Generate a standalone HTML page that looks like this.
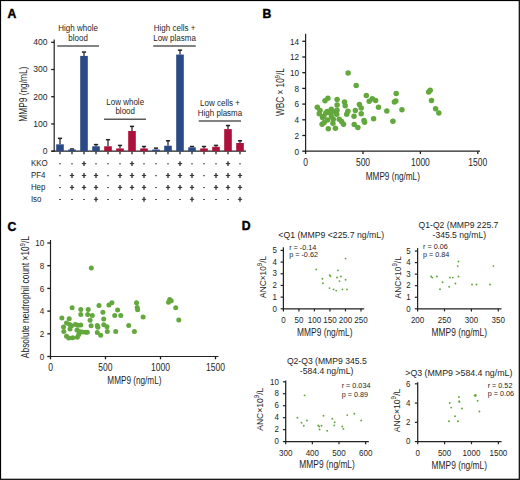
<!DOCTYPE html>
<html><head><meta charset="utf-8"><style>
html,body{margin:0;padding:0;background:#fff;}
body{width:520px;height:480px;overflow:hidden;position:relative;}
svg{position:absolute;left:0;top:0;}
svg text{font-family:"Liberation Sans", sans-serif;}
</style></head><body>
<svg width="520" height="480" viewBox="0 0 520 480">
<rect x="0" y="0" width="520" height="480" fill="#fff"/>
<text x="7.40" y="17.60" font-size="12.2" text-anchor="start" fill="#000" font-weight="bold" stroke="#000" stroke-width="0.45">A</text>
<text x="262.60" y="17.60" font-size="12.2" text-anchor="start" fill="#000" font-weight="bold" stroke="#000" stroke-width="0.45">B</text>
<text x="7.40" y="230.60" font-size="12.2" text-anchor="start" fill="#000" font-weight="bold" stroke="#000" stroke-width="0.45">C</text>
<text x="241.80" y="230.40" font-size="12.2" text-anchor="start" fill="#000" font-weight="bold" stroke="#000" stroke-width="0.45">D</text>
<line x1="54.20" y1="39.50" x2="54.20" y2="151.75" stroke="#222" stroke-width="1.2"/>
<line x1="51.20" y1="151.15" x2="54.20" y2="151.15" stroke="#1a1a1a" stroke-width="1.3"/>
<text x="0" y="0" transform="translate(47.60,153.95) scale(0.930,1)" font-size="9.2" text-anchor="end" fill="#1e1e1e" font-weight="normal" >0</text>
<line x1="51.20" y1="123.94" x2="54.20" y2="123.94" stroke="#1a1a1a" stroke-width="1.3"/>
<text x="0" y="0" transform="translate(47.60,126.74) scale(0.930,1)" font-size="9.2" text-anchor="end" fill="#1e1e1e" font-weight="normal" >100</text>
<line x1="51.20" y1="96.73" x2="54.20" y2="96.73" stroke="#1a1a1a" stroke-width="1.3"/>
<text x="0" y="0" transform="translate(47.60,99.53) scale(0.930,1)" font-size="9.2" text-anchor="end" fill="#1e1e1e" font-weight="normal" >200</text>
<line x1="51.20" y1="69.52" x2="54.20" y2="69.52" stroke="#1a1a1a" stroke-width="1.3"/>
<text x="0" y="0" transform="translate(47.60,72.32) scale(0.930,1)" font-size="9.2" text-anchor="end" fill="#1e1e1e" font-weight="normal" >300</text>
<line x1="51.20" y1="42.31" x2="54.20" y2="42.31" stroke="#1a1a1a" stroke-width="1.3"/>
<text x="0" y="0" transform="translate(47.60,45.11) scale(0.930,1)" font-size="9.2" text-anchor="end" fill="#1e1e1e" font-weight="normal" >400</text>
<line x1="51.50" y1="151.15" x2="246.00" y2="151.15" stroke="#222" stroke-width="1.2"/>
<line x1="60.00" y1="144.35" x2="60.00" y2="138.63" stroke="#2a2a2a" stroke-width="1.3"/>
<line x1="57.90" y1="138.33" x2="62.10" y2="138.33" stroke="#222" stroke-width="1.5"/>
<rect x="56.20" y="144.35" width="7.60" height="6.80" fill="#2b4b86"/>
<line x1="60.00" y1="151.75" x2="60.00" y2="154.35" stroke="#2a2a2a" stroke-width="1.35"/>
<line x1="72.00" y1="149.52" x2="72.00" y2="149.25" stroke="#2a2a2a" stroke-width="1.3"/>
<line x1="69.90" y1="148.95" x2="74.10" y2="148.95" stroke="#222" stroke-width="1.5"/>
<rect x="68.20" y="149.52" width="7.60" height="1.63" fill="#2b4b86"/>
<line x1="72.00" y1="151.75" x2="72.00" y2="154.35" stroke="#2a2a2a" stroke-width="1.35"/>
<line x1="84.00" y1="55.92" x2="84.00" y2="52.38" stroke="#2a2a2a" stroke-width="1.3"/>
<line x1="81.90" y1="52.08" x2="86.10" y2="52.08" stroke="#222" stroke-width="1.5"/>
<rect x="80.20" y="55.92" width="7.60" height="95.23" fill="#2b4b86"/>
<line x1="84.00" y1="151.75" x2="84.00" y2="154.35" stroke="#2a2a2a" stroke-width="1.35"/>
<line x1="96.00" y1="146.25" x2="96.00" y2="144.89" stroke="#2a2a2a" stroke-width="1.3"/>
<line x1="93.90" y1="144.59" x2="98.10" y2="144.59" stroke="#222" stroke-width="1.5"/>
<rect x="92.20" y="146.25" width="7.60" height="4.90" fill="#2b4b86"/>
<line x1="96.00" y1="151.75" x2="96.00" y2="154.35" stroke="#2a2a2a" stroke-width="1.35"/>
<line x1="108.00" y1="146.25" x2="108.00" y2="139.99" stroke="#2a2a2a" stroke-width="1.3"/>
<line x1="105.90" y1="139.69" x2="110.10" y2="139.69" stroke="#222" stroke-width="1.5"/>
<rect x="104.20" y="146.25" width="7.60" height="4.90" fill="#ad103b"/>
<line x1="108.00" y1="151.75" x2="108.00" y2="154.35" stroke="#2a2a2a" stroke-width="1.35"/>
<line x1="120.00" y1="148.43" x2="120.00" y2="145.71" stroke="#2a2a2a" stroke-width="1.3"/>
<line x1="117.90" y1="145.41" x2="122.10" y2="145.41" stroke="#222" stroke-width="1.5"/>
<rect x="116.20" y="148.43" width="7.60" height="2.72" fill="#ad103b"/>
<line x1="120.00" y1="151.75" x2="120.00" y2="154.35" stroke="#2a2a2a" stroke-width="1.35"/>
<line x1="132.00" y1="131.01" x2="132.00" y2="126.66" stroke="#2a2a2a" stroke-width="1.3"/>
<line x1="129.90" y1="126.36" x2="134.10" y2="126.36" stroke="#222" stroke-width="1.5"/>
<rect x="128.20" y="131.01" width="7.60" height="20.14" fill="#ad103b"/>
<line x1="132.00" y1="151.75" x2="132.00" y2="154.35" stroke="#2a2a2a" stroke-width="1.35"/>
<line x1="144.00" y1="148.43" x2="144.00" y2="146.80" stroke="#2a2a2a" stroke-width="1.3"/>
<line x1="141.90" y1="146.50" x2="146.10" y2="146.50" stroke="#222" stroke-width="1.5"/>
<rect x="140.20" y="148.43" width="7.60" height="2.72" fill="#ad103b"/>
<line x1="144.00" y1="151.75" x2="144.00" y2="154.35" stroke="#2a2a2a" stroke-width="1.35"/>
<line x1="156.00" y1="149.52" x2="156.00" y2="148.43" stroke="#2a2a2a" stroke-width="1.3"/>
<line x1="153.90" y1="148.13" x2="158.10" y2="148.13" stroke="#222" stroke-width="1.5"/>
<rect x="152.20" y="149.52" width="7.60" height="1.63" fill="#2b4b86"/>
<line x1="156.00" y1="151.75" x2="156.00" y2="154.35" stroke="#2a2a2a" stroke-width="1.35"/>
<line x1="168.00" y1="145.71" x2="168.00" y2="141.08" stroke="#2a2a2a" stroke-width="1.3"/>
<line x1="165.90" y1="140.78" x2="170.10" y2="140.78" stroke="#222" stroke-width="1.5"/>
<rect x="164.20" y="145.71" width="7.60" height="5.44" fill="#2b4b86"/>
<line x1="168.00" y1="151.75" x2="168.00" y2="154.35" stroke="#2a2a2a" stroke-width="1.35"/>
<line x1="180.00" y1="54.55" x2="180.00" y2="50.47" stroke="#2a2a2a" stroke-width="1.3"/>
<line x1="177.90" y1="50.17" x2="182.10" y2="50.17" stroke="#222" stroke-width="1.5"/>
<rect x="176.20" y="54.55" width="7.60" height="96.60" fill="#2b4b86"/>
<line x1="180.00" y1="151.75" x2="180.00" y2="154.35" stroke="#2a2a2a" stroke-width="1.35"/>
<line x1="192.00" y1="147.34" x2="192.00" y2="146.80" stroke="#2a2a2a" stroke-width="1.3"/>
<line x1="189.90" y1="146.50" x2="194.10" y2="146.50" stroke="#222" stroke-width="1.5"/>
<rect x="188.20" y="147.34" width="7.60" height="3.81" fill="#2b4b86"/>
<line x1="192.00" y1="151.75" x2="192.00" y2="154.35" stroke="#2a2a2a" stroke-width="1.35"/>
<line x1="204.00" y1="148.43" x2="204.00" y2="146.80" stroke="#2a2a2a" stroke-width="1.3"/>
<line x1="201.90" y1="146.50" x2="206.10" y2="146.50" stroke="#222" stroke-width="1.5"/>
<rect x="200.20" y="148.43" width="7.60" height="2.72" fill="#ad103b"/>
<line x1="204.00" y1="151.75" x2="204.00" y2="154.35" stroke="#2a2a2a" stroke-width="1.35"/>
<line x1="216.00" y1="146.80" x2="216.00" y2="145.71" stroke="#2a2a2a" stroke-width="1.3"/>
<line x1="213.90" y1="145.41" x2="218.10" y2="145.41" stroke="#222" stroke-width="1.5"/>
<rect x="212.20" y="146.80" width="7.60" height="4.35" fill="#ad103b"/>
<line x1="216.00" y1="151.75" x2="216.00" y2="154.35" stroke="#2a2a2a" stroke-width="1.35"/>
<line x1="228.00" y1="129.11" x2="228.00" y2="125.84" stroke="#2a2a2a" stroke-width="1.3"/>
<line x1="225.90" y1="125.54" x2="230.10" y2="125.54" stroke="#222" stroke-width="1.5"/>
<rect x="224.20" y="129.11" width="7.60" height="22.04" fill="#ad103b"/>
<line x1="228.00" y1="151.75" x2="228.00" y2="154.35" stroke="#2a2a2a" stroke-width="1.35"/>
<line x1="240.00" y1="142.99" x2="240.00" y2="141.08" stroke="#2a2a2a" stroke-width="1.3"/>
<line x1="237.90" y1="140.78" x2="242.10" y2="140.78" stroke="#222" stroke-width="1.5"/>
<rect x="236.20" y="142.99" width="7.60" height="8.16" fill="#ad103b"/>
<line x1="240.00" y1="151.75" x2="240.00" y2="154.35" stroke="#2a2a2a" stroke-width="1.35"/>
<line x1="57.20" y1="46.00" x2="99.00" y2="46.00" stroke="#5a5a5a" stroke-width="1.5"/>
<text x="0" y="0" transform="translate(78.10,31.20) scale(0.930,1)" font-size="8.6" text-anchor="middle" fill="#1e1e1e" font-weight="normal" >High whole</text>
<text x="0" y="0" transform="translate(78.10,40.80) scale(0.930,1)" font-size="8.6" text-anchor="middle" fill="#1e1e1e" font-weight="normal" >blood</text>
<line x1="104.00" y1="119.30" x2="146.00" y2="119.30" stroke="#5a5a5a" stroke-width="1.5"/>
<text x="0" y="0" transform="translate(125.20,104.60) scale(0.930,1)" font-size="8.6" text-anchor="middle" fill="#1e1e1e" font-weight="normal" >Low whole</text>
<text x="0" y="0" transform="translate(125.20,113.80) scale(0.930,1)" font-size="8.6" text-anchor="middle" fill="#1e1e1e" font-weight="normal" >blood</text>
<line x1="153.30" y1="45.90" x2="195.80" y2="45.90" stroke="#5a5a5a" stroke-width="1.5"/>
<text x="0" y="0" transform="translate(174.55,31.20) scale(0.930,1)" font-size="8.6" text-anchor="middle" fill="#1e1e1e" font-weight="normal" >High cells +</text>
<text x="0" y="0" transform="translate(174.55,40.60) scale(0.930,1)" font-size="8.6" text-anchor="middle" fill="#1e1e1e" font-weight="normal" >Low plasma</text>
<line x1="198.70" y1="120.90" x2="241.00" y2="120.90" stroke="#5a5a5a" stroke-width="1.5"/>
<text x="0" y="0" transform="translate(220.00,106.20) scale(0.930,1)" font-size="8.6" text-anchor="middle" fill="#1e1e1e" font-weight="normal" >Low cells +</text>
<text x="0" y="0" transform="translate(220.00,115.60) scale(0.930,1)" font-size="8.6" text-anchor="middle" fill="#1e1e1e" font-weight="normal" >High plasma</text>
<text x="0" y="0" transform="translate(30.90,165.90) scale(0.900,1)" font-size="8.8" text-anchor="start" fill="#1e1e1e" font-weight="normal" >KKO</text>
<line x1="59.00" y1="163.80" x2="61.00" y2="163.80" stroke="#555" stroke-width="1.0"/>
<line x1="71.00" y1="163.80" x2="73.00" y2="163.80" stroke="#555" stroke-width="1.0"/>
<line x1="81.80" y1="163.60" x2="86.20" y2="163.60" stroke="#3a3a3a" stroke-width="1.1"/>
<line x1="84.00" y1="161.20" x2="84.00" y2="166.00" stroke="#333" stroke-width="1.35"/>
<line x1="95.00" y1="163.80" x2="97.00" y2="163.80" stroke="#555" stroke-width="1.0"/>
<line x1="107.00" y1="163.80" x2="109.00" y2="163.80" stroke="#555" stroke-width="1.0"/>
<line x1="119.00" y1="163.80" x2="121.00" y2="163.80" stroke="#555" stroke-width="1.0"/>
<line x1="129.80" y1="163.60" x2="134.20" y2="163.60" stroke="#3a3a3a" stroke-width="1.1"/>
<line x1="132.00" y1="161.20" x2="132.00" y2="166.00" stroke="#333" stroke-width="1.35"/>
<line x1="143.00" y1="163.80" x2="145.00" y2="163.80" stroke="#555" stroke-width="1.0"/>
<line x1="155.00" y1="163.80" x2="157.00" y2="163.80" stroke="#555" stroke-width="1.0"/>
<line x1="167.00" y1="163.80" x2="169.00" y2="163.80" stroke="#555" stroke-width="1.0"/>
<line x1="177.80" y1="163.60" x2="182.20" y2="163.60" stroke="#3a3a3a" stroke-width="1.1"/>
<line x1="180.00" y1="161.20" x2="180.00" y2="166.00" stroke="#333" stroke-width="1.35"/>
<line x1="191.00" y1="163.80" x2="193.00" y2="163.80" stroke="#555" stroke-width="1.0"/>
<line x1="203.00" y1="163.80" x2="205.00" y2="163.80" stroke="#555" stroke-width="1.0"/>
<line x1="215.00" y1="163.80" x2="217.00" y2="163.80" stroke="#555" stroke-width="1.0"/>
<line x1="225.80" y1="163.60" x2="230.20" y2="163.60" stroke="#3a3a3a" stroke-width="1.1"/>
<line x1="228.00" y1="161.20" x2="228.00" y2="166.00" stroke="#333" stroke-width="1.35"/>
<line x1="239.00" y1="163.80" x2="241.00" y2="163.80" stroke="#555" stroke-width="1.0"/>
<text x="0" y="0" transform="translate(30.90,177.80) scale(0.900,1)" font-size="8.8" text-anchor="start" fill="#1e1e1e" font-weight="normal" >PF4</text>
<line x1="59.00" y1="175.70" x2="61.00" y2="175.70" stroke="#555" stroke-width="1.0"/>
<line x1="69.80" y1="175.50" x2="74.20" y2="175.50" stroke="#3a3a3a" stroke-width="1.1"/>
<line x1="72.00" y1="173.10" x2="72.00" y2="177.90" stroke="#333" stroke-width="1.35"/>
<line x1="81.80" y1="175.50" x2="86.20" y2="175.50" stroke="#3a3a3a" stroke-width="1.1"/>
<line x1="84.00" y1="173.10" x2="84.00" y2="177.90" stroke="#333" stroke-width="1.35"/>
<line x1="93.80" y1="175.50" x2="98.20" y2="175.50" stroke="#3a3a3a" stroke-width="1.1"/>
<line x1="96.00" y1="173.10" x2="96.00" y2="177.90" stroke="#333" stroke-width="1.35"/>
<line x1="107.00" y1="175.70" x2="109.00" y2="175.70" stroke="#555" stroke-width="1.0"/>
<line x1="117.80" y1="175.50" x2="122.20" y2="175.50" stroke="#3a3a3a" stroke-width="1.1"/>
<line x1="120.00" y1="173.10" x2="120.00" y2="177.90" stroke="#333" stroke-width="1.35"/>
<line x1="129.80" y1="175.50" x2="134.20" y2="175.50" stroke="#3a3a3a" stroke-width="1.1"/>
<line x1="132.00" y1="173.10" x2="132.00" y2="177.90" stroke="#333" stroke-width="1.35"/>
<line x1="141.80" y1="175.50" x2="146.20" y2="175.50" stroke="#3a3a3a" stroke-width="1.1"/>
<line x1="144.00" y1="173.10" x2="144.00" y2="177.90" stroke="#333" stroke-width="1.35"/>
<line x1="155.00" y1="175.70" x2="157.00" y2="175.70" stroke="#555" stroke-width="1.0"/>
<line x1="165.80" y1="175.50" x2="170.20" y2="175.50" stroke="#3a3a3a" stroke-width="1.1"/>
<line x1="168.00" y1="173.10" x2="168.00" y2="177.90" stroke="#333" stroke-width="1.35"/>
<line x1="177.80" y1="175.50" x2="182.20" y2="175.50" stroke="#3a3a3a" stroke-width="1.1"/>
<line x1="180.00" y1="173.10" x2="180.00" y2="177.90" stroke="#333" stroke-width="1.35"/>
<line x1="189.80" y1="175.50" x2="194.20" y2="175.50" stroke="#3a3a3a" stroke-width="1.1"/>
<line x1="192.00" y1="173.10" x2="192.00" y2="177.90" stroke="#333" stroke-width="1.35"/>
<line x1="203.00" y1="175.70" x2="205.00" y2="175.70" stroke="#555" stroke-width="1.0"/>
<line x1="213.80" y1="175.50" x2="218.20" y2="175.50" stroke="#3a3a3a" stroke-width="1.1"/>
<line x1="216.00" y1="173.10" x2="216.00" y2="177.90" stroke="#333" stroke-width="1.35"/>
<line x1="225.80" y1="175.50" x2="230.20" y2="175.50" stroke="#3a3a3a" stroke-width="1.1"/>
<line x1="228.00" y1="173.10" x2="228.00" y2="177.90" stroke="#333" stroke-width="1.35"/>
<line x1="237.80" y1="175.50" x2="242.20" y2="175.50" stroke="#3a3a3a" stroke-width="1.1"/>
<line x1="240.00" y1="173.10" x2="240.00" y2="177.90" stroke="#333" stroke-width="1.35"/>
<text x="0" y="0" transform="translate(30.90,189.70) scale(0.900,1)" font-size="8.8" text-anchor="start" fill="#1e1e1e" font-weight="normal" >Hep</text>
<line x1="59.00" y1="187.60" x2="61.00" y2="187.60" stroke="#555" stroke-width="1.0"/>
<line x1="69.80" y1="187.40" x2="74.20" y2="187.40" stroke="#3a3a3a" stroke-width="1.1"/>
<line x1="72.00" y1="185.00" x2="72.00" y2="189.80" stroke="#333" stroke-width="1.35"/>
<line x1="81.80" y1="187.40" x2="86.20" y2="187.40" stroke="#3a3a3a" stroke-width="1.1"/>
<line x1="84.00" y1="185.00" x2="84.00" y2="189.80" stroke="#333" stroke-width="1.35"/>
<line x1="93.80" y1="187.40" x2="98.20" y2="187.40" stroke="#3a3a3a" stroke-width="1.1"/>
<line x1="96.00" y1="185.00" x2="96.00" y2="189.80" stroke="#333" stroke-width="1.35"/>
<line x1="107.00" y1="187.60" x2="109.00" y2="187.60" stroke="#555" stroke-width="1.0"/>
<line x1="117.80" y1="187.40" x2="122.20" y2="187.40" stroke="#3a3a3a" stroke-width="1.1"/>
<line x1="120.00" y1="185.00" x2="120.00" y2="189.80" stroke="#333" stroke-width="1.35"/>
<line x1="129.80" y1="187.40" x2="134.20" y2="187.40" stroke="#3a3a3a" stroke-width="1.1"/>
<line x1="132.00" y1="185.00" x2="132.00" y2="189.80" stroke="#333" stroke-width="1.35"/>
<line x1="141.80" y1="187.40" x2="146.20" y2="187.40" stroke="#3a3a3a" stroke-width="1.1"/>
<line x1="144.00" y1="185.00" x2="144.00" y2="189.80" stroke="#333" stroke-width="1.35"/>
<line x1="155.00" y1="187.60" x2="157.00" y2="187.60" stroke="#555" stroke-width="1.0"/>
<line x1="165.80" y1="187.40" x2="170.20" y2="187.40" stroke="#3a3a3a" stroke-width="1.1"/>
<line x1="168.00" y1="185.00" x2="168.00" y2="189.80" stroke="#333" stroke-width="1.35"/>
<line x1="177.80" y1="187.40" x2="182.20" y2="187.40" stroke="#3a3a3a" stroke-width="1.1"/>
<line x1="180.00" y1="185.00" x2="180.00" y2="189.80" stroke="#333" stroke-width="1.35"/>
<line x1="189.80" y1="187.40" x2="194.20" y2="187.40" stroke="#3a3a3a" stroke-width="1.1"/>
<line x1="192.00" y1="185.00" x2="192.00" y2="189.80" stroke="#333" stroke-width="1.35"/>
<line x1="203.00" y1="187.60" x2="205.00" y2="187.60" stroke="#555" stroke-width="1.0"/>
<line x1="213.80" y1="187.40" x2="218.20" y2="187.40" stroke="#3a3a3a" stroke-width="1.1"/>
<line x1="216.00" y1="185.00" x2="216.00" y2="189.80" stroke="#333" stroke-width="1.35"/>
<line x1="225.80" y1="187.40" x2="230.20" y2="187.40" stroke="#3a3a3a" stroke-width="1.1"/>
<line x1="228.00" y1="185.00" x2="228.00" y2="189.80" stroke="#333" stroke-width="1.35"/>
<line x1="237.80" y1="187.40" x2="242.20" y2="187.40" stroke="#3a3a3a" stroke-width="1.1"/>
<line x1="240.00" y1="185.00" x2="240.00" y2="189.80" stroke="#333" stroke-width="1.35"/>
<text x="0" y="0" transform="translate(30.90,201.60) scale(0.900,1)" font-size="8.8" text-anchor="start" fill="#1e1e1e" font-weight="normal" >Iso</text>
<line x1="59.00" y1="199.50" x2="61.00" y2="199.50" stroke="#555" stroke-width="1.0"/>
<line x1="71.00" y1="199.50" x2="73.00" y2="199.50" stroke="#555" stroke-width="1.0"/>
<line x1="83.00" y1="199.50" x2="85.00" y2="199.50" stroke="#555" stroke-width="1.0"/>
<line x1="93.80" y1="199.30" x2="98.20" y2="199.30" stroke="#3a3a3a" stroke-width="1.1"/>
<line x1="96.00" y1="196.90" x2="96.00" y2="201.70" stroke="#333" stroke-width="1.35"/>
<line x1="107.00" y1="199.50" x2="109.00" y2="199.50" stroke="#555" stroke-width="1.0"/>
<line x1="119.00" y1="199.50" x2="121.00" y2="199.50" stroke="#555" stroke-width="1.0"/>
<line x1="131.00" y1="199.50" x2="133.00" y2="199.50" stroke="#555" stroke-width="1.0"/>
<line x1="141.80" y1="199.30" x2="146.20" y2="199.30" stroke="#3a3a3a" stroke-width="1.1"/>
<line x1="144.00" y1="196.90" x2="144.00" y2="201.70" stroke="#333" stroke-width="1.35"/>
<line x1="155.00" y1="199.50" x2="157.00" y2="199.50" stroke="#555" stroke-width="1.0"/>
<line x1="167.00" y1="199.50" x2="169.00" y2="199.50" stroke="#555" stroke-width="1.0"/>
<line x1="179.00" y1="199.50" x2="181.00" y2="199.50" stroke="#555" stroke-width="1.0"/>
<line x1="189.80" y1="199.30" x2="194.20" y2="199.30" stroke="#3a3a3a" stroke-width="1.1"/>
<line x1="192.00" y1="196.90" x2="192.00" y2="201.70" stroke="#333" stroke-width="1.35"/>
<line x1="203.00" y1="199.50" x2="205.00" y2="199.50" stroke="#555" stroke-width="1.0"/>
<line x1="215.00" y1="199.50" x2="217.00" y2="199.50" stroke="#555" stroke-width="1.0"/>
<line x1="227.00" y1="199.50" x2="229.00" y2="199.50" stroke="#555" stroke-width="1.0"/>
<line x1="237.80" y1="199.30" x2="242.20" y2="199.30" stroke="#3a3a3a" stroke-width="1.1"/>
<line x1="240.00" y1="196.90" x2="240.00" y2="201.70" stroke="#333" stroke-width="1.35"/>
<text x="0" y="0" font-size="10.0" fill="#1e1e1e" transform="translate(27.30,121.70) rotate(-90) scale(0.834,1)">MMP9 (ng/mL)</text>
<line x1="305.60" y1="33.80" x2="305.60" y2="151.80" stroke="#222" stroke-width="1.2"/>
<line x1="305.00" y1="151.20" x2="480.00" y2="151.20" stroke="#222" stroke-width="1.2"/>
<line x1="302.30" y1="151.20" x2="305.60" y2="151.20" stroke="#1a1a1a" stroke-width="1.3"/>
<text x="0" y="0" transform="translate(299.00,154.50) scale(0.870,1)" font-size="9.4" text-anchor="end" fill="#1e1e1e" font-weight="normal" >0</text>
<line x1="302.30" y1="135.50" x2="305.60" y2="135.50" stroke="#1a1a1a" stroke-width="1.3"/>
<text x="0" y="0" transform="translate(299.00,138.80) scale(0.870,1)" font-size="9.4" text-anchor="end" fill="#1e1e1e" font-weight="normal" >2</text>
<line x1="302.30" y1="119.80" x2="305.60" y2="119.80" stroke="#1a1a1a" stroke-width="1.3"/>
<text x="0" y="0" transform="translate(299.00,123.10) scale(0.870,1)" font-size="9.4" text-anchor="end" fill="#1e1e1e" font-weight="normal" >4</text>
<line x1="302.30" y1="104.10" x2="305.60" y2="104.10" stroke="#1a1a1a" stroke-width="1.3"/>
<text x="0" y="0" transform="translate(299.00,107.40) scale(0.870,1)" font-size="9.4" text-anchor="end" fill="#1e1e1e" font-weight="normal" >6</text>
<line x1="302.30" y1="88.40" x2="305.60" y2="88.40" stroke="#1a1a1a" stroke-width="1.3"/>
<text x="0" y="0" transform="translate(299.00,91.70) scale(0.870,1)" font-size="9.4" text-anchor="end" fill="#1e1e1e" font-weight="normal" >8</text>
<line x1="302.30" y1="72.70" x2="305.60" y2="72.70" stroke="#1a1a1a" stroke-width="1.3"/>
<text x="0" y="0" transform="translate(299.00,76.00) scale(0.870,1)" font-size="9.4" text-anchor="end" fill="#1e1e1e" font-weight="normal" >10</text>
<line x1="302.30" y1="57.00" x2="305.60" y2="57.00" stroke="#1a1a1a" stroke-width="1.3"/>
<text x="0" y="0" transform="translate(299.00,60.30) scale(0.870,1)" font-size="9.4" text-anchor="end" fill="#1e1e1e" font-weight="normal" >12</text>
<line x1="302.30" y1="41.30" x2="305.60" y2="41.30" stroke="#1a1a1a" stroke-width="1.3"/>
<text x="0" y="0" transform="translate(299.00,44.60) scale(0.870,1)" font-size="9.4" text-anchor="end" fill="#1e1e1e" font-weight="normal" >14</text>
<line x1="305.60" y1="151.20" x2="305.60" y2="154.00" stroke="#1a1a1a" stroke-width="1.3"/>
<text x="0" y="0" transform="translate(305.60,165.50) scale(0.850,1)" font-size="10.0" text-anchor="middle" fill="#1e1e1e" font-weight="normal" >0</text>
<line x1="363.00" y1="151.20" x2="363.00" y2="154.00" stroke="#1a1a1a" stroke-width="1.3"/>
<text x="0" y="0" transform="translate(363.00,165.50) scale(0.850,1)" font-size="10.0" text-anchor="middle" fill="#1e1e1e" font-weight="normal" >500</text>
<line x1="420.40" y1="151.20" x2="420.40" y2="154.00" stroke="#1a1a1a" stroke-width="1.3"/>
<text x="0" y="0" transform="translate(420.40,165.50) scale(0.850,1)" font-size="10.0" text-anchor="middle" fill="#1e1e1e" font-weight="normal" >1000</text>
<line x1="477.80" y1="151.20" x2="477.80" y2="154.00" stroke="#1a1a1a" stroke-width="1.3"/>
<text x="0" y="0" transform="translate(477.80,165.50) scale(0.850,1)" font-size="10.0" text-anchor="middle" fill="#1e1e1e" font-weight="normal" >1500</text>
<text x="0" y="0" transform="translate(392.80,179.60) scale(0.820,1)" font-size="10.0" text-anchor="middle" fill="#1e1e1e" font-weight="normal" >MMP9 (ng/mL)</text>
<text x="0" y="0" font-size="10.2" fill="#1e1e1e" transform="translate(283.60,116.00) rotate(-90) scale(0.809,1)">WBC × 10<tspan dy="-4.0" font-size="7.2">9</tspan><tspan dy="4.0">/L</tspan></text>
<circle cx="348.10" cy="72.90" r="2.75" fill="#62a83c"/>
<circle cx="356.20" cy="85.40" r="2.75" fill="#62a83c"/>
<circle cx="366.30" cy="95.50" r="2.75" fill="#62a83c"/>
<circle cx="369.20" cy="101.20" r="2.75" fill="#62a83c"/>
<circle cx="372.30" cy="98.70" r="2.75" fill="#62a83c"/>
<circle cx="375.60" cy="100.40" r="2.75" fill="#62a83c"/>
<circle cx="378.50" cy="107.30" r="2.75" fill="#62a83c"/>
<circle cx="386.80" cy="111.10" r="2.75" fill="#62a83c"/>
<circle cx="396.20" cy="93.50" r="2.75" fill="#62a83c"/>
<circle cx="395.80" cy="101.00" r="2.75" fill="#62a83c"/>
<circle cx="394.40" cy="102.10" r="2.75" fill="#62a83c"/>
<circle cx="401.90" cy="109.70" r="2.75" fill="#62a83c"/>
<circle cx="392.90" cy="121.20" r="2.75" fill="#62a83c"/>
<circle cx="373.60" cy="118.80" r="2.75" fill="#62a83c"/>
<circle cx="364.00" cy="120.60" r="2.75" fill="#62a83c"/>
<circle cx="364.60" cy="122.30" r="2.75" fill="#62a83c"/>
<circle cx="359.40" cy="104.40" r="2.75" fill="#62a83c"/>
<circle cx="361.20" cy="107.90" r="2.75" fill="#62a83c"/>
<circle cx="355.40" cy="110.40" r="2.75" fill="#62a83c"/>
<circle cx="361.20" cy="113.70" r="2.75" fill="#62a83c"/>
<circle cx="354.00" cy="116.30" r="2.75" fill="#62a83c"/>
<circle cx="354.20" cy="124.40" r="2.75" fill="#62a83c"/>
<circle cx="357.90" cy="127.50" r="2.75" fill="#62a83c"/>
<circle cx="347.90" cy="111.30" r="2.75" fill="#62a83c"/>
<circle cx="346.70" cy="114.20" r="2.75" fill="#62a83c"/>
<circle cx="344.50" cy="102.10" r="2.75" fill="#62a83c"/>
<circle cx="345.20" cy="105.70" r="2.75" fill="#62a83c"/>
<circle cx="343.50" cy="124.20" r="2.75" fill="#62a83c"/>
<circle cx="325.00" cy="100.80" r="2.75" fill="#62a83c"/>
<circle cx="327.90" cy="98.20" r="2.75" fill="#62a83c"/>
<circle cx="337.10" cy="99.60" r="2.75" fill="#62a83c"/>
<circle cx="337.10" cy="105.00" r="2.75" fill="#62a83c"/>
<circle cx="317.30" cy="107.30" r="2.75" fill="#62a83c"/>
<circle cx="320.00" cy="110.40" r="2.75" fill="#62a83c"/>
<circle cx="319.20" cy="113.75" r="2.75" fill="#62a83c"/>
<circle cx="325.80" cy="112.90" r="2.75" fill="#62a83c"/>
<circle cx="322.50" cy="117.50" r="2.75" fill="#62a83c"/>
<circle cx="331.25" cy="109.20" r="2.75" fill="#62a83c"/>
<circle cx="333.75" cy="111.70" r="2.75" fill="#62a83c"/>
<circle cx="336.70" cy="114.20" r="2.75" fill="#62a83c"/>
<circle cx="330.40" cy="113.30" r="2.75" fill="#62a83c"/>
<circle cx="327.50" cy="120.00" r="2.75" fill="#62a83c"/>
<circle cx="322.10" cy="124.20" r="2.75" fill="#62a83c"/>
<circle cx="333.30" cy="119.20" r="2.75" fill="#62a83c"/>
<circle cx="332.90" cy="123.30" r="2.75" fill="#62a83c"/>
<circle cx="339.20" cy="119.20" r="2.75" fill="#62a83c"/>
<circle cx="328.30" cy="128.75" r="2.75" fill="#62a83c"/>
<circle cx="335.40" cy="128.30" r="2.75" fill="#62a83c"/>
<circle cx="324.20" cy="122.50" r="2.75" fill="#62a83c"/>
<circle cx="337.00" cy="110.20" r="2.75" fill="#62a83c"/>
<circle cx="331.50" cy="116.80" r="2.75" fill="#62a83c"/>
<circle cx="341.60" cy="121.40" r="2.75" fill="#62a83c"/>
<circle cx="323.80" cy="116.20" r="2.75" fill="#62a83c"/>
<circle cx="327.20" cy="111.60" r="2.75" fill="#62a83c"/>
<circle cx="428.70" cy="92.10" r="2.75" fill="#62a83c"/>
<circle cx="430.20" cy="90.20" r="2.75" fill="#62a83c"/>
<circle cx="431.50" cy="100.50" r="2.75" fill="#62a83c"/>
<circle cx="435.60" cy="108.80" r="2.75" fill="#62a83c"/>
<circle cx="438.80" cy="112.90" r="2.75" fill="#62a83c"/>
<line x1="50.50" y1="240.00" x2="50.50" y2="357.10" stroke="#222" stroke-width="1.2"/>
<line x1="49.90" y1="356.50" x2="218.50" y2="356.50" stroke="#222" stroke-width="1.2"/>
<line x1="47.30" y1="356.50" x2="50.50" y2="356.50" stroke="#1a1a1a" stroke-width="1.3"/>
<text x="0" y="0" transform="translate(44.20,359.70) scale(0.900,1)" font-size="9.0" text-anchor="end" fill="#1e1e1e" font-weight="normal" >0</text>
<line x1="47.30" y1="333.80" x2="50.50" y2="333.80" stroke="#1a1a1a" stroke-width="1.3"/>
<text x="0" y="0" transform="translate(44.20,337.00) scale(0.900,1)" font-size="9.0" text-anchor="end" fill="#1e1e1e" font-weight="normal" >2</text>
<line x1="47.30" y1="311.10" x2="50.50" y2="311.10" stroke="#1a1a1a" stroke-width="1.3"/>
<text x="0" y="0" transform="translate(44.20,314.30) scale(0.900,1)" font-size="9.0" text-anchor="end" fill="#1e1e1e" font-weight="normal" >4</text>
<line x1="47.30" y1="288.40" x2="50.50" y2="288.40" stroke="#1a1a1a" stroke-width="1.3"/>
<text x="0" y="0" transform="translate(44.20,291.60) scale(0.900,1)" font-size="9.0" text-anchor="end" fill="#1e1e1e" font-weight="normal" >6</text>
<line x1="47.30" y1="265.70" x2="50.50" y2="265.70" stroke="#1a1a1a" stroke-width="1.3"/>
<text x="0" y="0" transform="translate(44.20,268.90) scale(0.900,1)" font-size="9.0" text-anchor="end" fill="#1e1e1e" font-weight="normal" >8</text>
<line x1="47.30" y1="243.00" x2="50.50" y2="243.00" stroke="#1a1a1a" stroke-width="1.3"/>
<text x="0" y="0" transform="translate(44.20,246.20) scale(0.900,1)" font-size="9.0" text-anchor="end" fill="#1e1e1e" font-weight="normal" >10</text>
<line x1="50.50" y1="356.50" x2="50.50" y2="359.30" stroke="#1a1a1a" stroke-width="1.3"/>
<text x="0" y="0" transform="translate(50.50,370.60) scale(0.830,1)" font-size="10.3" text-anchor="middle" fill="#1e1e1e" font-weight="normal" >0</text>
<line x1="105.50" y1="356.50" x2="105.50" y2="359.30" stroke="#1a1a1a" stroke-width="1.3"/>
<text x="0" y="0" transform="translate(105.50,370.60) scale(0.830,1)" font-size="10.3" text-anchor="middle" fill="#1e1e1e" font-weight="normal" >500</text>
<line x1="160.50" y1="356.50" x2="160.50" y2="359.30" stroke="#1a1a1a" stroke-width="1.3"/>
<text x="0" y="0" transform="translate(160.50,370.60) scale(0.830,1)" font-size="10.3" text-anchor="middle" fill="#1e1e1e" font-weight="normal" >1000</text>
<line x1="215.50" y1="356.50" x2="215.50" y2="359.30" stroke="#1a1a1a" stroke-width="1.3"/>
<text x="0" y="0" transform="translate(215.50,370.60) scale(0.830,1)" font-size="10.3" text-anchor="middle" fill="#1e1e1e" font-weight="normal" >1500</text>
<text x="0" y="0" transform="translate(134.40,383.80) scale(0.820,1)" font-size="10.0" text-anchor="middle" fill="#1e1e1e" font-weight="normal" >MMP9 (ng/mL)</text>
<text x="0" y="0" font-size="10.9" fill="#1e1e1e" transform="translate(28.60,358.20) rotate(-90) scale(0.775,1)">Absolute neutrophil count ×10<tspan dy="-4.0" font-size="7.2">9</tspan><tspan dy="4.0">/L</tspan></text>
<circle cx="91.30" cy="267.90" r="2.5" fill="#62a83c"/>
<circle cx="111.90" cy="302.70" r="2.5" fill="#62a83c"/>
<circle cx="136.50" cy="302.70" r="2.5" fill="#62a83c"/>
<circle cx="99.00" cy="305.40" r="2.5" fill="#62a83c"/>
<circle cx="72.10" cy="307.70" r="2.5" fill="#62a83c"/>
<circle cx="80.80" cy="309.60" r="2.5" fill="#62a83c"/>
<circle cx="80.80" cy="314.60" r="2.5" fill="#62a83c"/>
<circle cx="88.20" cy="309.60" r="2.5" fill="#62a83c"/>
<circle cx="87.70" cy="314.40" r="2.5" fill="#62a83c"/>
<circle cx="92.30" cy="315.40" r="2.5" fill="#62a83c"/>
<circle cx="90.10" cy="320.30" r="2.5" fill="#62a83c"/>
<circle cx="91.10" cy="325.80" r="2.5" fill="#62a83c"/>
<circle cx="97.30" cy="325.50" r="2.5" fill="#62a83c"/>
<circle cx="97.30" cy="332.50" r="2.5" fill="#62a83c"/>
<circle cx="100.70" cy="335.20" r="2.5" fill="#62a83c"/>
<circle cx="61.90" cy="317.90" r="2.5" fill="#62a83c"/>
<circle cx="69.20" cy="318.80" r="2.5" fill="#62a83c"/>
<circle cx="108.90" cy="305.10" r="2.5" fill="#62a83c"/>
<circle cx="102.90" cy="312.30" r="2.5" fill="#62a83c"/>
<circle cx="117.60" cy="309.90" r="2.5" fill="#62a83c"/>
<circle cx="114.70" cy="315.50" r="2.5" fill="#62a83c"/>
<circle cx="120.80" cy="315.50" r="2.5" fill="#62a83c"/>
<circle cx="103.70" cy="319.00" r="2.5" fill="#62a83c"/>
<circle cx="103.80" cy="324.80" r="2.5" fill="#62a83c"/>
<circle cx="107.00" cy="326.70" r="2.5" fill="#62a83c"/>
<circle cx="107.30" cy="331.50" r="2.5" fill="#62a83c"/>
<circle cx="115.70" cy="331.50" r="2.5" fill="#62a83c"/>
<circle cx="128.70" cy="325.60" r="2.5" fill="#62a83c"/>
<circle cx="134.40" cy="331.50" r="2.5" fill="#62a83c"/>
<circle cx="137.20" cy="307.40" r="2.5" fill="#62a83c"/>
<circle cx="137.60" cy="309.80" r="2.5" fill="#62a83c"/>
<circle cx="97.90" cy="327.30" r="2.5" fill="#62a83c"/>
<circle cx="143.10" cy="316.90" r="2.5" fill="#62a83c"/>
<circle cx="169.70" cy="299.60" r="2.5" fill="#62a83c"/>
<circle cx="171.20" cy="300.80" r="2.5" fill="#62a83c"/>
<circle cx="168.50" cy="302.20" r="2.5" fill="#62a83c"/>
<circle cx="175.70" cy="307.80" r="2.5" fill="#62a83c"/>
<circle cx="178.80" cy="320.10" r="2.5" fill="#62a83c"/>
<circle cx="66.50" cy="323.10" r="2.5" fill="#62a83c"/>
<circle cx="63.50" cy="326.90" r="2.5" fill="#62a83c"/>
<circle cx="63.80" cy="331.50" r="2.5" fill="#62a83c"/>
<circle cx="69.60" cy="324.60" r="2.5" fill="#62a83c"/>
<circle cx="71.50" cy="325.80" r="2.5" fill="#62a83c"/>
<circle cx="70.00" cy="329.00" r="2.5" fill="#62a83c"/>
<circle cx="75.40" cy="324.60" r="2.5" fill="#62a83c"/>
<circle cx="80.80" cy="325.00" r="2.5" fill="#62a83c"/>
<circle cx="78.00" cy="325.20" r="2.5" fill="#62a83c"/>
<circle cx="77.00" cy="330.00" r="2.5" fill="#62a83c"/>
<circle cx="79.00" cy="331.20" r="2.5" fill="#62a83c"/>
<circle cx="82.30" cy="331.90" r="2.5" fill="#62a83c"/>
<circle cx="85.50" cy="332.30" r="2.5" fill="#62a83c"/>
<circle cx="87.30" cy="332.30" r="2.5" fill="#62a83c"/>
<circle cx="66.50" cy="336.20" r="2.5" fill="#62a83c"/>
<circle cx="68.80" cy="338.10" r="2.5" fill="#62a83c"/>
<circle cx="72.70" cy="337.70" r="2.5" fill="#62a83c"/>
<circle cx="77.30" cy="337.30" r="2.5" fill="#62a83c"/>
<circle cx="78.80" cy="334.60" r="2.5" fill="#62a83c"/>
<line x1="283.40" y1="247.30" x2="283.40" y2="309.40" stroke="#222" stroke-width="1.25"/>
<line x1="282.80" y1="308.80" x2="364.20" y2="308.80" stroke="#222" stroke-width="1.25"/>
<line x1="280.60" y1="308.80" x2="283.40" y2="308.80" stroke="#222" stroke-width="1.2"/>
<text x="0" y="0" transform="translate(277.00,311.50) scale(0.920,1)" font-size="8.6" text-anchor="end" fill="#1e1e1e" font-weight="normal" >0</text>
<line x1="280.60" y1="297.12" x2="283.40" y2="297.12" stroke="#222" stroke-width="1.2"/>
<text x="0" y="0" transform="translate(277.00,299.82) scale(0.920,1)" font-size="8.6" text-anchor="end" fill="#1e1e1e" font-weight="normal" >1</text>
<line x1="280.60" y1="285.44" x2="283.40" y2="285.44" stroke="#222" stroke-width="1.2"/>
<text x="0" y="0" transform="translate(277.00,288.14) scale(0.920,1)" font-size="8.6" text-anchor="end" fill="#1e1e1e" font-weight="normal" >2</text>
<line x1="280.60" y1="273.76" x2="283.40" y2="273.76" stroke="#222" stroke-width="1.2"/>
<text x="0" y="0" transform="translate(277.00,276.46) scale(0.920,1)" font-size="8.6" text-anchor="end" fill="#1e1e1e" font-weight="normal" >3</text>
<line x1="280.60" y1="262.08" x2="283.40" y2="262.08" stroke="#222" stroke-width="1.2"/>
<text x="0" y="0" transform="translate(277.00,264.78) scale(0.920,1)" font-size="8.6" text-anchor="end" fill="#1e1e1e" font-weight="normal" >4</text>
<line x1="280.60" y1="250.40" x2="283.40" y2="250.40" stroke="#222" stroke-width="1.2"/>
<text x="0" y="0" transform="translate(277.00,253.10) scale(0.920,1)" font-size="8.6" text-anchor="end" fill="#1e1e1e" font-weight="normal" >5</text>
<line x1="283.40" y1="308.80" x2="283.40" y2="311.40" stroke="#222" stroke-width="1.2"/>
<text x="0" y="0" transform="translate(283.40,322.80) scale(0.845,1)" font-size="9.5" text-anchor="middle" fill="#1e1e1e" font-weight="normal" >0</text>
<line x1="298.92" y1="308.80" x2="298.92" y2="311.40" stroke="#222" stroke-width="1.2"/>
<text x="0" y="0" transform="translate(298.92,322.80) scale(0.845,1)" font-size="9.5" text-anchor="middle" fill="#1e1e1e" font-weight="normal" >50</text>
<line x1="314.44" y1="308.80" x2="314.44" y2="311.40" stroke="#222" stroke-width="1.2"/>
<text x="0" y="0" transform="translate(314.44,322.80) scale(0.845,1)" font-size="9.5" text-anchor="middle" fill="#1e1e1e" font-weight="normal" >100</text>
<line x1="329.96" y1="308.80" x2="329.96" y2="311.40" stroke="#222" stroke-width="1.2"/>
<text x="0" y="0" transform="translate(329.96,322.80) scale(0.845,1)" font-size="9.5" text-anchor="middle" fill="#1e1e1e" font-weight="normal" >150</text>
<line x1="345.48" y1="308.80" x2="345.48" y2="311.40" stroke="#222" stroke-width="1.2"/>
<text x="0" y="0" transform="translate(345.48,322.80) scale(0.845,1)" font-size="9.5" text-anchor="middle" fill="#1e1e1e" font-weight="normal" >200</text>
<line x1="361.00" y1="308.80" x2="361.00" y2="311.40" stroke="#222" stroke-width="1.2"/>
<text x="0" y="0" transform="translate(361.00,322.80) scale(0.845,1)" font-size="9.5" text-anchor="middle" fill="#1e1e1e" font-weight="normal" >250</text>
<text x="331.20" y="238.40" font-size="8.7" text-anchor="middle" fill="#1e1e1e" font-weight="normal" >&lt;Q1 (MMP9 &lt;225.7 ng/mL)</text>
<text x="0" y="0" transform="translate(289.20,249.60) scale(1.020,1)" font-size="7.1" text-anchor="start" fill="#1e1e1e" font-weight="normal" >r = -0.14</text>
<text x="0" y="0" transform="translate(289.20,256.80) scale(1.020,1)" font-size="7.1" text-anchor="start" fill="#1e1e1e" font-weight="normal" >p = -0.62</text>
<text x="0" y="0" transform="translate(324.80,336.00) scale(0.840,1)" font-size="10.0" text-anchor="middle" fill="#1e1e1e" font-weight="normal" >MMP9 (ng/mL)</text>
<text x="0" y="0" font-size="9.8" fill="#1e1e1e" transform="translate(266.30,297.90) rotate(-90) scale(0.850,1)">ANC×10<tspan dy="-4.0" font-size="7.2">9</tspan><tspan dy="4.0">/L</tspan></text>
<circle cx="345.60" cy="258.60" r="0.95" fill="#62a83c"/>
<circle cx="316.30" cy="269.40" r="0.95" fill="#62a83c"/>
<circle cx="337.90" cy="270.40" r="0.95" fill="#62a83c"/>
<circle cx="329.70" cy="275.10" r="0.95" fill="#62a83c"/>
<circle cx="330.40" cy="276.20" r="0.95" fill="#62a83c"/>
<circle cx="337.00" cy="277.50" r="0.95" fill="#62a83c"/>
<circle cx="340.90" cy="276.40" r="0.95" fill="#62a83c"/>
<circle cx="322.40" cy="278.80" r="0.95" fill="#62a83c"/>
<circle cx="339.50" cy="281.10" r="0.95" fill="#62a83c"/>
<circle cx="345.60" cy="279.80" r="0.95" fill="#62a83c"/>
<circle cx="322.90" cy="283.30" r="0.95" fill="#62a83c"/>
<circle cx="329.50" cy="288.10" r="0.95" fill="#62a83c"/>
<circle cx="333.60" cy="289.40" r="0.95" fill="#62a83c"/>
<circle cx="336.20" cy="290.60" r="0.95" fill="#62a83c"/>
<circle cx="342.40" cy="289.40" r="0.95" fill="#62a83c"/>
<circle cx="347.00" cy="289.40" r="0.95" fill="#62a83c"/>
<line x1="417.60" y1="248.10" x2="417.60" y2="309.40" stroke="#222" stroke-width="1.25"/>
<line x1="417.00" y1="308.80" x2="501.50" y2="308.80" stroke="#222" stroke-width="1.25"/>
<line x1="414.80" y1="308.80" x2="417.60" y2="308.80" stroke="#222" stroke-width="1.2"/>
<text x="0" y="0" transform="translate(410.70,311.50) scale(0.920,1)" font-size="8.6" text-anchor="end" fill="#1e1e1e" font-weight="normal" >0</text>
<line x1="414.80" y1="297.25" x2="417.60" y2="297.25" stroke="#222" stroke-width="1.2"/>
<text x="0" y="0" transform="translate(410.70,299.95) scale(0.920,1)" font-size="8.6" text-anchor="end" fill="#1e1e1e" font-weight="normal" >1</text>
<line x1="414.80" y1="285.70" x2="417.60" y2="285.70" stroke="#222" stroke-width="1.2"/>
<text x="0" y="0" transform="translate(410.70,288.40) scale(0.920,1)" font-size="8.6" text-anchor="end" fill="#1e1e1e" font-weight="normal" >2</text>
<line x1="414.80" y1="274.15" x2="417.60" y2="274.15" stroke="#222" stroke-width="1.2"/>
<text x="0" y="0" transform="translate(410.70,276.85) scale(0.920,1)" font-size="8.6" text-anchor="end" fill="#1e1e1e" font-weight="normal" >3</text>
<line x1="414.80" y1="262.60" x2="417.60" y2="262.60" stroke="#222" stroke-width="1.2"/>
<text x="0" y="0" transform="translate(410.70,265.30) scale(0.920,1)" font-size="8.6" text-anchor="end" fill="#1e1e1e" font-weight="normal" >4</text>
<line x1="414.80" y1="251.05" x2="417.60" y2="251.05" stroke="#222" stroke-width="1.2"/>
<text x="0" y="0" transform="translate(410.70,253.75) scale(0.920,1)" font-size="8.6" text-anchor="end" fill="#1e1e1e" font-weight="normal" >5</text>
<line x1="417.60" y1="308.80" x2="417.60" y2="311.40" stroke="#222" stroke-width="1.2"/>
<text x="0" y="0" transform="translate(417.60,322.80) scale(0.845,1)" font-size="9.5" text-anchor="middle" fill="#1e1e1e" font-weight="normal" >200</text>
<line x1="444.50" y1="308.80" x2="444.50" y2="311.40" stroke="#222" stroke-width="1.2"/>
<text x="0" y="0" transform="translate(444.50,322.80) scale(0.845,1)" font-size="9.5" text-anchor="middle" fill="#1e1e1e" font-weight="normal" >250</text>
<line x1="471.40" y1="308.80" x2="471.40" y2="311.40" stroke="#222" stroke-width="1.2"/>
<text x="0" y="0" transform="translate(471.40,322.80) scale(0.845,1)" font-size="9.5" text-anchor="middle" fill="#1e1e1e" font-weight="normal" >300</text>
<line x1="498.30" y1="308.80" x2="498.30" y2="311.40" stroke="#222" stroke-width="1.2"/>
<text x="0" y="0" transform="translate(498.30,322.80) scale(0.845,1)" font-size="9.5" text-anchor="middle" fill="#1e1e1e" font-weight="normal" >350</text>
<text x="458.50" y="228.40" font-size="8.6" text-anchor="middle" fill="#1e1e1e" font-weight="normal" >Q1-Q2 (MMP9 225.7</text>
<text x="459.30" y="237.50" font-size="8.6" text-anchor="middle" fill="#1e1e1e" font-weight="normal" >-345.5 ng/mL)</text>
<text x="0" y="0" transform="translate(423.00,249.30) scale(1.020,1)" font-size="7.1" text-anchor="start" fill="#1e1e1e" font-weight="normal" >r = 0.06</text>
<text x="0" y="0" transform="translate(423.00,257.10) scale(1.020,1)" font-size="7.1" text-anchor="start" fill="#1e1e1e" font-weight="normal" >p = 0.84</text>
<text x="0" y="0" transform="translate(459.30,336.40) scale(0.840,1)" font-size="10.0" text-anchor="middle" fill="#1e1e1e" font-weight="normal" >MMP9 (ng/mL)</text>
<text x="0" y="0" font-size="9.8" fill="#1e1e1e" transform="translate(400.60,298.45) rotate(-90) scale(0.855,1)">ANC×10<tspan dy="-4.0" font-size="7.2">9</tspan><tspan dy="4.0">/L</tspan></text>
<circle cx="458.50" cy="261.50" r="0.95" fill="#62a83c"/>
<circle cx="457.70" cy="266.10" r="0.95" fill="#62a83c"/>
<circle cx="493.40" cy="266.10" r="0.95" fill="#62a83c"/>
<circle cx="431.10" cy="276.50" r="0.95" fill="#62a83c"/>
<circle cx="432.30" cy="277.60" r="0.95" fill="#62a83c"/>
<circle cx="436.90" cy="276.50" r="0.95" fill="#62a83c"/>
<circle cx="450.00" cy="277.60" r="0.95" fill="#62a83c"/>
<circle cx="452.80" cy="277.60" r="0.95" fill="#62a83c"/>
<circle cx="458.50" cy="276.50" r="0.95" fill="#62a83c"/>
<circle cx="442.60" cy="282.20" r="0.95" fill="#62a83c"/>
<circle cx="455.40" cy="283.50" r="0.95" fill="#62a83c"/>
<circle cx="449.20" cy="286.80" r="0.95" fill="#62a83c"/>
<circle cx="440.00" cy="289.20" r="0.95" fill="#62a83c"/>
<circle cx="472.00" cy="284.50" r="0.95" fill="#62a83c"/>
<circle cx="476.50" cy="284.50" r="0.95" fill="#62a83c"/>
<circle cx="490.00" cy="284.50" r="0.95" fill="#62a83c"/>
<line x1="285.70" y1="380.50" x2="285.70" y2="442.20" stroke="#222" stroke-width="1.25"/>
<line x1="285.10" y1="441.60" x2="368.85" y2="441.60" stroke="#222" stroke-width="1.25"/>
<line x1="282.90" y1="441.60" x2="285.70" y2="441.60" stroke="#222" stroke-width="1.2"/>
<text x="0" y="0" transform="translate(278.80,444.30) scale(0.920,1)" font-size="8.6" text-anchor="end" fill="#1e1e1e" font-weight="normal" >0</text>
<line x1="282.90" y1="429.64" x2="285.70" y2="429.64" stroke="#222" stroke-width="1.2"/>
<text x="0" y="0" transform="translate(278.80,432.34) scale(0.920,1)" font-size="8.6" text-anchor="end" fill="#1e1e1e" font-weight="normal" >2</text>
<line x1="282.90" y1="417.68" x2="285.70" y2="417.68" stroke="#222" stroke-width="1.2"/>
<text x="0" y="0" transform="translate(278.80,420.38) scale(0.920,1)" font-size="8.6" text-anchor="end" fill="#1e1e1e" font-weight="normal" >4</text>
<line x1="282.90" y1="405.72" x2="285.70" y2="405.72" stroke="#222" stroke-width="1.2"/>
<text x="0" y="0" transform="translate(278.80,408.42) scale(0.920,1)" font-size="8.6" text-anchor="end" fill="#1e1e1e" font-weight="normal" >6</text>
<line x1="282.90" y1="393.76" x2="285.70" y2="393.76" stroke="#222" stroke-width="1.2"/>
<text x="0" y="0" transform="translate(278.80,396.46) scale(0.920,1)" font-size="8.6" text-anchor="end" fill="#1e1e1e" font-weight="normal" >8</text>
<line x1="282.90" y1="381.80" x2="285.70" y2="381.80" stroke="#222" stroke-width="1.2"/>
<text x="0" y="0" transform="translate(278.80,384.50) scale(0.920,1)" font-size="8.6" text-anchor="end" fill="#1e1e1e" font-weight="normal" >10</text>
<line x1="285.70" y1="441.60" x2="285.70" y2="444.20" stroke="#222" stroke-width="1.2"/>
<text x="0" y="0" transform="translate(285.70,455.60) scale(0.845,1)" font-size="9.5" text-anchor="middle" fill="#1e1e1e" font-weight="normal" >300</text>
<line x1="312.35" y1="441.60" x2="312.35" y2="444.20" stroke="#222" stroke-width="1.2"/>
<text x="0" y="0" transform="translate(312.35,455.60) scale(0.845,1)" font-size="9.5" text-anchor="middle" fill="#1e1e1e" font-weight="normal" >400</text>
<line x1="339.00" y1="441.60" x2="339.00" y2="444.20" stroke="#222" stroke-width="1.2"/>
<text x="0" y="0" transform="translate(339.00,455.60) scale(0.845,1)" font-size="9.5" text-anchor="middle" fill="#1e1e1e" font-weight="normal" >500</text>
<line x1="365.65" y1="441.60" x2="365.65" y2="444.20" stroke="#222" stroke-width="1.2"/>
<text x="0" y="0" transform="translate(365.65,455.60) scale(0.845,1)" font-size="9.5" text-anchor="middle" fill="#1e1e1e" font-weight="normal" >600</text>
<text x="326.80" y="363.90" font-size="8.6" text-anchor="middle" fill="#1e1e1e" font-weight="normal" >Q2-Q3 (MMP9 345.5</text>
<text x="326.60" y="373.50" font-size="8.6" text-anchor="middle" fill="#1e1e1e" font-weight="normal" >-584.4 ng/mL)</text>
<text x="0" y="0" transform="translate(341.70,388.40) scale(1.020,1)" font-size="7.1" text-anchor="start" fill="#1e1e1e" font-weight="normal" >r = 0.034</text>
<text x="0" y="0" transform="translate(341.70,396.70) scale(1.020,1)" font-size="7.1" text-anchor="start" fill="#1e1e1e" font-weight="normal" >p = 0.89</text>
<text x="0" y="0" transform="translate(327.10,467.50) scale(0.840,1)" font-size="10.0" text-anchor="middle" fill="#1e1e1e" font-weight="normal" >MMP9 (ng/mL)</text>
<text x="0" y="0" font-size="9.8" fill="#1e1e1e" transform="translate(263.00,430.80) rotate(-90) scale(0.873,1)">ANC×10<tspan dy="-4.0" font-size="7.2">9</tspan><tspan dy="4.0">/L</tspan></text>
<circle cx="304.60" cy="395.40" r="0.95" fill="#62a83c"/>
<circle cx="297.40" cy="417.70" r="0.95" fill="#62a83c"/>
<circle cx="301.50" cy="422.80" r="0.95" fill="#62a83c"/>
<circle cx="303.80" cy="425.80" r="0.95" fill="#62a83c"/>
<circle cx="306.90" cy="420.50" r="0.95" fill="#62a83c"/>
<circle cx="318.20" cy="425.40" r="0.95" fill="#62a83c"/>
<circle cx="319.20" cy="426.50" r="0.95" fill="#62a83c"/>
<circle cx="321.50" cy="425.80" r="0.95" fill="#62a83c"/>
<circle cx="319.50" cy="429.50" r="0.95" fill="#62a83c"/>
<circle cx="323.50" cy="415.70" r="0.95" fill="#62a83c"/>
<circle cx="327.20" cy="430.80" r="0.95" fill="#62a83c"/>
<circle cx="332.30" cy="418.80" r="0.95" fill="#62a83c"/>
<circle cx="334.60" cy="422.30" r="0.95" fill="#62a83c"/>
<circle cx="334.30" cy="425.40" r="0.95" fill="#62a83c"/>
<circle cx="342.30" cy="426.50" r="0.95" fill="#62a83c"/>
<circle cx="343.40" cy="428.90" r="0.95" fill="#62a83c"/>
<circle cx="347.20" cy="415.10" r="0.95" fill="#62a83c"/>
<circle cx="354.30" cy="413.80" r="0.95" fill="#62a83c"/>
<circle cx="361.20" cy="420.50" r="0.95" fill="#62a83c"/>
<line x1="417.70" y1="382.20" x2="417.70" y2="442.20" stroke="#222" stroke-width="1.25"/>
<line x1="417.10" y1="441.60" x2="501.60" y2="441.60" stroke="#222" stroke-width="1.25"/>
<line x1="414.90" y1="441.60" x2="417.70" y2="441.60" stroke="#222" stroke-width="1.2"/>
<text x="0" y="0" transform="translate(410.30,444.30) scale(0.920,1)" font-size="8.6" text-anchor="end" fill="#1e1e1e" font-weight="normal" >0</text>
<line x1="414.90" y1="422.34" x2="417.70" y2="422.34" stroke="#222" stroke-width="1.2"/>
<text x="0" y="0" transform="translate(410.30,425.04) scale(0.920,1)" font-size="8.6" text-anchor="end" fill="#1e1e1e" font-weight="normal" >2</text>
<line x1="414.90" y1="403.08" x2="417.70" y2="403.08" stroke="#222" stroke-width="1.2"/>
<text x="0" y="0" transform="translate(410.30,405.78) scale(0.920,1)" font-size="8.6" text-anchor="end" fill="#1e1e1e" font-weight="normal" >4</text>
<line x1="414.90" y1="383.82" x2="417.70" y2="383.82" stroke="#222" stroke-width="1.2"/>
<text x="0" y="0" transform="translate(410.30,386.52) scale(0.920,1)" font-size="8.6" text-anchor="end" fill="#1e1e1e" font-weight="normal" >6</text>
<line x1="417.70" y1="441.60" x2="417.70" y2="444.20" stroke="#222" stroke-width="1.2"/>
<text x="0" y="0" transform="translate(417.70,455.60) scale(0.845,1)" font-size="9.5" text-anchor="middle" fill="#1e1e1e" font-weight="normal" >0</text>
<line x1="444.60" y1="441.60" x2="444.60" y2="444.20" stroke="#222" stroke-width="1.2"/>
<text x="0" y="0" transform="translate(444.60,455.60) scale(0.845,1)" font-size="9.5" text-anchor="middle" fill="#1e1e1e" font-weight="normal" >500</text>
<line x1="471.50" y1="441.60" x2="471.50" y2="444.20" stroke="#222" stroke-width="1.2"/>
<text x="0" y="0" transform="translate(471.50,455.60) scale(0.845,1)" font-size="9.5" text-anchor="middle" fill="#1e1e1e" font-weight="normal" >1000</text>
<line x1="498.40" y1="441.60" x2="498.40" y2="444.20" stroke="#222" stroke-width="1.2"/>
<text x="0" y="0" transform="translate(498.40,455.60) scale(0.845,1)" font-size="9.5" text-anchor="middle" fill="#1e1e1e" font-weight="normal" >1500</text>
<text x="458.80" y="376.10" font-size="8.8" text-anchor="middle" fill="#1e1e1e" font-weight="normal" >&gt;Q3 (MMP9 &gt;584.4 ng/mL)</text>
<text x="0" y="0" transform="translate(487.70,387.50) scale(1.020,1)" font-size="7.1" text-anchor="start" fill="#1e1e1e" font-weight="normal" >r = 0.52</text>
<text x="0" y="0" transform="translate(487.70,395.60) scale(1.020,1)" font-size="7.1" text-anchor="start" fill="#1e1e1e" font-weight="normal" >p = 0.06</text>
<text x="0" y="0" transform="translate(459.30,468.80) scale(0.840,1)" font-size="10.0" text-anchor="middle" fill="#1e1e1e" font-weight="normal" >MMP9 (ng/mL)</text>
<text x="0" y="0" font-size="9.8" fill="#1e1e1e" transform="translate(399.60,432.30) rotate(-90) scale(0.883,1)">ANC×10<tspan dy="-4.0" font-size="7.2">9</tspan><tspan dy="4.0">/L</tspan></text>
<circle cx="458.90" cy="397.00" r="0.95" fill="#62a83c"/>
<circle cx="459.20" cy="401.20" r="0.95" fill="#62a83c"/>
<circle cx="459.40" cy="401.90" r="0.95" fill="#62a83c"/>
<circle cx="449.70" cy="403.00" r="0.95" fill="#62a83c"/>
<circle cx="451.20" cy="407.60" r="0.95" fill="#62a83c"/>
<circle cx="462.00" cy="408.50" r="0.95" fill="#62a83c"/>
<circle cx="474.60" cy="395.50" r="0.95" fill="#62a83c"/>
<circle cx="475.80" cy="395.00" r="0.95" fill="#62a83c"/>
<circle cx="475.40" cy="396.10" r="0.95" fill="#62a83c"/>
<circle cx="477.70" cy="400.80" r="0.95" fill="#62a83c"/>
<circle cx="479.40" cy="411.50" r="0.95" fill="#62a83c"/>
<circle cx="455.10" cy="416.20" r="0.95" fill="#62a83c"/>
<circle cx="448.90" cy="421.20" r="0.95" fill="#62a83c"/>
<circle cx="458.00" cy="421.20" r="0.95" fill="#62a83c"/>
<rect x="0.5" y="0.5" width="518.8" height="478.8" fill="none" stroke="#000" stroke-width="1.2"/>
</svg>
</body></html>
